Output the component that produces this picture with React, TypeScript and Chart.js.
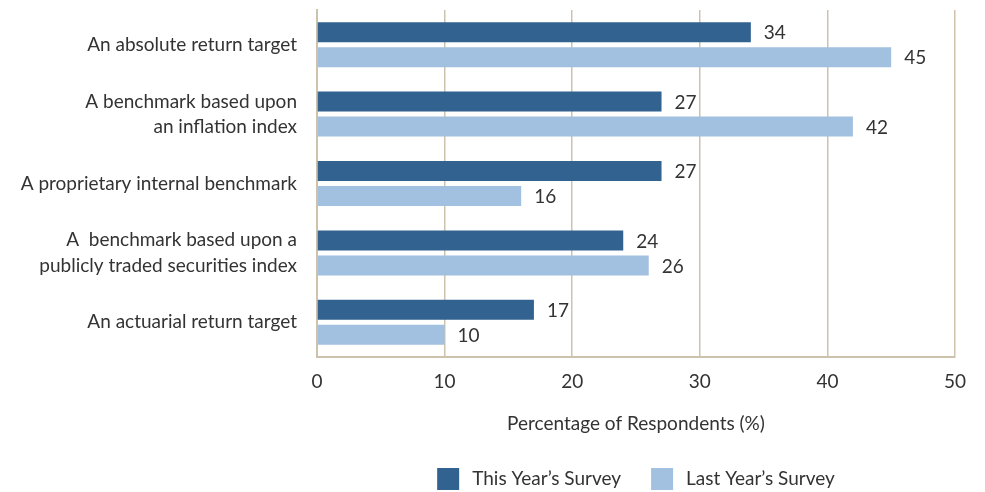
import React, { useEffect, useRef } from "react";
import { Chart, registerables } from "chart.js";

Chart.register(...registerables);

const categories: string[][] = [
  ["An absolute return target"],
  ["A benchmark based upon", "an inflation index"],
  ["A proprietary internal benchmark"],
  ["A  benchmark based upon a", "publicly traded securities index"],
  ["An actuarial return target"],
];
const thisYear = [34, 27, 27, 24, 17];
const lastYear = [45, 42, 16, 26, 10];
const seriesNames = ["This Year\u2019s Survey", "Last Year\u2019s Survey"];
const xTicks = [0, 10, 20, 30, 40, 50];
const axisTitle = "Percentage of Respondents (%)";

const DARK = "#32628f";
const LIGHT = "#a2c0df";
const GRID = "#cdc3ad";
const TEXT = "#333333";
const FONT = "Lato";

const valueLabels = {
  id: "valueLabels",
  afterDatasetsDraw(chart: any) {
    const ctx = chart.ctx;
    ctx.save();
    ctx.font = `19px ${FONT}`;
    ctx.fillStyle = TEXT;
    ctx.textAlign = "left";
    ctx.textBaseline = "middle";
    chart.data.datasets.forEach((ds: any, di: number) => {
      const meta = chart.getDatasetMeta(di);
      meta.data.forEach((bar: any, i: number) => {
        ctx.fillText(String(ds.data[i]), bar.x + 13, bar.y + 1);
      });
    });
    ctx.restore();
  },
};

const bottomLegend = {
  id: "bottomLegend",
  afterDraw(chart: any) {
    const ctx = chart.ctx;
    const area = chart.chartArea;
    ctx.save();
    ctx.font = `19px ${FONT}`;
    ctx.textBaseline = "middle";
    ctx.textAlign = "left";
    const box = 22;
    const gapText = 13;
    const gapItem = 30;
    const items = chart.data.datasets.map((ds: any) => ({
      label: ds.label,
      color: ds.backgroundColor,
      w: box + gapText + ctx.measureText(ds.label).width,
    }));
    const total = items.reduce((s: number, it: any) => s + it.w, 0) + gapItem * (items.length - 1);
    let x = (area.left + area.right) / 2 - total / 2;
    const top = chart.height - 24;
    items.forEach((it: any) => {
      ctx.fillStyle = it.color;
      ctx.fillRect(x, top, box, box);
      ctx.fillStyle = TEXT;
      ctx.fillText(it.label, x + box + gapText, top + box / 2);
      x += it.w + gapItem;
    });
    ctx.restore();
  },
};

export default function App() {
  const ref = useRef<HTMLCanvasElement>(null);
  useEffect(() => {
    document.body.style.margin = "0";
    const chart = new Chart(ref.current!, {
      type: "bar",
      data: {
        labels: categories,
        datasets: [
          { label: seriesNames[0], data: thisYear, backgroundColor: DARK, categoryPercentage: 0.72, barPercentage: 0.8 },
          { label: seriesNames[1], data: lastYear, backgroundColor: LIGHT, categoryPercentage: 0.72, barPercentage: 0.8 },
        ],
      },
      options: {
        indexAxis: "y",
        animation: false,
        responsive: false,
        maintainAspectRatio: false,
        layout: { padding: { top: 10, right: 30, left: 0, bottom: 57 } },
        scales: {
          x: {
            min: 0,
            max: 50,
            afterBuildTicks: (scale: any) => {
              scale.ticks = xTicks.map((v) => ({ value: v }));
            },
            ticks: { color: TEXT, font: { family: FONT, size: 19 }, padding: 13 },
            grid: { color: GRID, lineWidth: 1.5, drawTicks: false },
            border: { color: GRID, width: 2 },
            title: {
              display: true,
              text: axisTitle,
              color: TEXT,
              font: { family: FONT, size: 19 },
              padding: { top: 18, bottom: 0 },
            },
            afterFit: (scale: any) => {
              scale.height = 78;
            },
          },
          y: {
            ticks: { color: TEXT, font: { family: FONT, size: 19, lineHeight: 1.32 }, padding: 20 },
            grid: { display: false, drawTicks: false },
            border: { color: GRID, width: 2 },
            afterFit: (scale: any) => {
              scale.width = 317;
              scale.paddingTop = 0;
              scale.paddingBottom = 0;
            },
          },
        },
        plugins: {
          legend: { display: false },
          tooltip: { enabled: false },
        },
      },
      plugins: [valueLabels, bottomLegend],
    } as any);
    return () => chart.destroy();
  }, []);
  return (
    <div style={{ width: 985, height: 492 }}>
      <canvas ref={ref} width={985} height={492} style={{ display: "block" }} />
    </div>
  );
}
